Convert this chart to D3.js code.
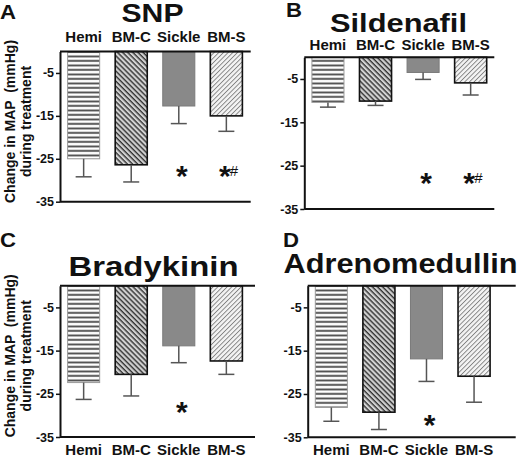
<!DOCTYPE html>
<html>
<head>
<meta charset="utf-8">
<script src="https://cdn.jsdelivr.net/npm/d3@7"></script>
<style>
  body { margin: 0; background: #fff; }
  text { font-family: "Liberation Sans", Arial, sans-serif; font-weight: bold; fill: #111; }
</style>
</head>
<body>
<svg id="chart" width="520" height="458"></svg>
<script>
// groups, same order in every panel
var categories = ["Hemi", "BM-C", "Sickle", "BM-S"];
var yTicks = [-5, -15, -25, -35];

// change in MAP (mmHg), mean and SEM
var snpMean = [-25.0, -26.4, -12.7, -15.0];
var snpSem = [4.2, 4.0, 4.1, 3.6];
var snpMarks = ["", "", "*", "*#"];

var sildenafilMean = [-10.4, -10.1, -3.5, -5.9];
var sildenafilSem = [1.1, 1.0, 1.6, 2.8];
var sildenafilMarks = ["", "", "*", "*#"];

var bradykininMean = [-22.4, -20.5, -13.9, -17.4];
var bradykininSem = [3.9, 5.0, 3.9, 3.1];
var bradykininMarks = ["", "", "*", ""];

var adrenoMean = [-28.1, -29.2, -16.9, -20.9];
var adrenoSem = [3.2, 4.0, 5.2, 6.0];
var adrenoMarks = ["", "", "*", ""];

// panel layout
var panels = [
  { letter: "A", title: "SNP", mean: snpMean, sem: snpSem, marks: snpMarks, markLevel: -27.3,
    ax: 60, y0: 51.5, y1: 201.7, right: 250.7, labelY: 41.7,
    tx: 152.5, ty: 22, tsize: 25, tlen: 62, lx: 0, ly: 18.5, yLabel: true },
  { letter: "B", title: "Sildenafil", mean: sildenafilMean, sem: sildenafilSem, marks: sildenafilMarks, markLevel: -27.3,
    ax: 304.3, y0: 57.3, y1: 209, right: 494.3, labelY: 49.5,
    tx: 398.5, ty: 31.5, tsize: 25, tlen: 137, lx: 286, ly: 17, yLabel: false },
  { letter: "C", title: "Bradykinin", mean: bradykininMean, sem: bradykininSem, marks: bradykininMarks, markLevel: -27.6,
    ax: 60, y0: 285.8, y1: 437, right: 255, labelY: 454.5,
    tx: 153.5, ty: 276.3, tsize: 27, tlen: 170, lx: 0, ly: 246.5, yLabel: true },
  { letter: "D", title: "Adrenomedullin", mean: adrenoMean, sem: adrenoSem, marks: adrenoMarks, markLevel: -30.5,
    ax: 307.7, y0: 285.7, y1: 437.3, right: 515.7, labelY: 455,
    tx: 400.5, ty: 273, tsize: 27, tlen: 234, lx: 283, ly: 246.5, yLabel: false }
];

var fills = ["url(#hemi)", "url(#bmc)", "#898989", "url(#bms)"];
var strokes = ["#9a9a9a", "#111", "#7a7a7a", "#111"];
var markDx = [0, 0, 3, -1.5];

var svg = d3.select("#chart");
svg.append("rect").attr("width", 520).attr("height", 458).attr("fill", "#fff");

// hatch patterns
var defs = svg.append("defs");
var p1 = defs.append("pattern").attr("id", "hemi").attr("patternUnits", "userSpaceOnUse")
  .attr("width", 8).attr("height", 4.5);
p1.append("rect").attr("width", 8).attr("height", 4.5).attr("fill", "#fff");
p1.append("rect").attr("y", 1.5).attr("width", 8).attr("height", 1.8).attr("fill", "#444");

var p2 = defs.append("pattern").attr("id", "bmc").attr("patternUnits", "userSpaceOnUse")
  .attr("width", 3.6).attr("height", 3.6).attr("patternTransform", "rotate(45)");
p2.append("rect").attr("width", 3.6).attr("height", 3.6).attr("fill", "#d2d2d2");
p2.append("rect").attr("width", 3.6).attr("height", 1.4).attr("fill", "#333");

var p3 = defs.append("pattern").attr("id", "bms").attr("patternUnits", "userSpaceOnUse")
  .attr("width", 3.3).attr("height", 3.3).attr("patternTransform", "rotate(-45)");
p3.append("rect").attr("width", 3.3).attr("height", 3.3).attr("fill", "#f4f4f4");
p3.append("rect").attr("width", 3.3).attr("height", 0.9).attr("fill", "#808080");

panels.forEach(function (p) {
  var g = svg.append("g");

  var x = d3.scaleBand().domain(categories)
    .range([p.ax, p.ax + 190]).paddingInner(0.326).paddingOuter(0.16);
  var y = d3.scaleLinear().domain([0, -35]).range([p.y0, p.y1]);

  var rows = categories.map(function (c, i) {
    return { cat: c, mean: p.mean[i], sem: p.sem[i], mark: p.marks[i], i: i };
  });

  // bars
  g.selectAll("rect.bar").data(rows).enter().append("rect")
    .attr("class", "bar")
    .attr("x", function (d) { return x(d.cat); })
    .attr("y", y(0))
    .attr("width", x.bandwidth())
    .attr("height", function (d) { return y(d.mean) - y(0); })
    .attr("fill", function (d) { return fills[d.i]; })
    .attr("stroke", function (d) { return strokes[d.i]; })
    .attr("stroke-width", function (d) { return d.i == 1 || d.i == 3 ? 1.6 : 1; });

  // error bars, downward only
  var cx = function (d) { return x(d.cat) + x.bandwidth() / 2; };
  g.selectAll("line.err").data(rows).enter().append("line")
    .attr("x1", cx).attr("x2", cx)
    .attr("y1", function (d) { return y(d.mean); })
    .attr("y2", function (d) { return y(d.mean - d.sem); })
    .attr("stroke", "#555").attr("stroke-width", 1.5);
  g.selectAll("line.cap").data(rows).enter().append("line")
    .attr("x1", function (d) { return cx(d) - 8; })
    .attr("x2", function (d) { return cx(d) + 8; })
    .attr("y1", function (d) { return y(d.mean - d.sem); })
    .attr("y2", function (d) { return y(d.mean - d.sem); })
    .attr("stroke", "#555").attr("stroke-width", 1.5);

  // frame lines top and bottom
  [0, -35].forEach(function (v) {
    g.append("line").attr("x1", p.ax).attr("x2", p.right)
      .attr("y1", y(v)).attr("y2", y(v))
      .attr("stroke", "#111").attr("stroke-width", 2);
  });

  // y axis
  var axis = g.append("g").attr("transform", "translate(" + p.ax + ",0)")
    .call(d3.axisLeft(y).tickValues(yTicks).tickSize(4).tickPadding(2).tickSizeOuter(0)
      .tickFormat(function (d) { return String(d); }));
  axis.select(".domain").attr("stroke", "#111").attr("stroke-width", 2);
  axis.selectAll(".tick line").attr("stroke", "#111").attr("stroke-width", 1.5);
  axis.selectAll(".tick text").attr("font-size", 12.5).attr("font-family", null).attr("fill", "#111");

  // category labels
  g.selectAll("text.cat").data(rows).enter().append("text")
    .attr("x", cx).attr("y", p.labelY)
    .attr("text-anchor", "middle").attr("font-size", 15)
    .text(function (d) { return d.cat; });

  // significance marks
  rows.forEach(function (d) {
    if (!d.mark) return;
    var sx = cx(d) + markDx[d.i];
    var sy = y(p.markLevel);
    g.append("text").attr("x", sx).attr("y", sy + 17)
      .attr("text-anchor", "middle").attr("font-size", 30).text("*");
    if (d.mark.indexOf("#") >= 0) {
      g.append("text").attr("x", sx + 5).attr("y", sy + 7)
        .attr("font-size", 15).style("font-weight", "normal").text("#");
    }
  });

  // title and panel letter
  g.append("text").attr("x", p.tx).attr("y", p.ty)
    .attr("text-anchor", "middle").attr("font-size", p.tsize)
    .attr("textLength", p.tlen).attr("lengthAdjust", "spacingAndGlyphs")
    .text(p.title);
  g.append("text").attr("x", p.lx).attr("y", p.ly)
    .attr("font-size", 20).attr("textLength", 16).attr("lengthAdjust", "spacingAndGlyphs")
    .text(p.letter);

  // y axis title, two lines
  if (p.yLabel) {
    var mid = p.y0 + 70;
    g.append("text").attr("transform", "translate(15," + mid + ") rotate(-90)")
      .attr("text-anchor", "middle").attr("font-size", 14)
      .style("white-space", "pre").text("Change in MAP  (mmHg)");
    g.append("text").attr("transform", "translate(31," + mid + ") rotate(-90)")
      .attr("text-anchor", "middle").attr("font-size", 14)
      .text("during treatment");
  }
});
</script>
</body>
</html>
